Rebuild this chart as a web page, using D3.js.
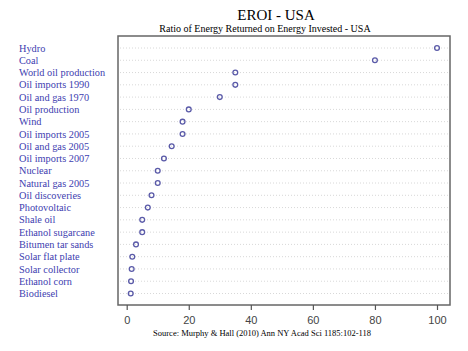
<!DOCTYPE html>
<html lang="en">
<head>
<meta charset="UTF-8">
<title>EROI - USA</title>
<script src="https://d3js.org/d3.v7.min.js"></script>
<style>
    body { margin: 0; background: #fff; }
    svg { display: block; font-family: 'Liberation Serif', 'DejaVu Serif', serif; }
    .grid { stroke: #d8d8d8; stroke-dasharray: 1, 2; }
    .lab { fill: #4040b0; font-size: 10.3px; }
    .tick text { fill: #444; font-size: 11px; }
</style>
</head>
<body>
<script>
// categories top to bottom, with EROI values
var sources = ["Hydro", "Coal", "World oil production", "Oil imports 1990", "Oil and gas 1970",
    "Oil production", "Wind", "Oil imports 2005", "Oil and gas 2005", "Oil imports 2007",
    "Nuclear", "Natural gas 2005", "Oil discoveries", "Photovoltaic", "Shale oil",
    "Ethanol sugarcane", "Bitumen tar sands", "Solar flat plate", "Solar collector",
    "Ethanol corn", "Biodiesel"];
var eroi = [100, 80, 35, 35, 30, 20, 18, 18, 14.5, 12, 10, 10, 8, 6.8, 5, 5, 3, 1.8, 1.6, 1.4, 1.3];
var xTicks = [0, 20, 40, 60, 80, 100];

var W = 468, H = 351;
var box = {left: 118, right: 450, top: 36, bottom: 305};

var svg = d3.select("body").append("svg")
    .attr("width", W)
    .attr("height", H);

var x = d3.scaleLinear().domain([0, 100]).range([126.7, 437]);
var y = d3.scalePoint().domain(sources).range([48, 293.5]);

// title + subtitle
svg.append("text")
    .attr("x", 276).attr("y", 20)
    .attr("text-anchor", "middle")
    .style("font-size", "15px")
    .text("EROI - USA");
svg.append("text")
    .attr("x", 265).attr("y", 32)
    .attr("text-anchor", "middle")
    .style("font-size", "10px")
    .text("Ratio of Energy Returned on Energy Invested - USA");

// dotted row lines
svg.selectAll(".grid")
    .data(sources)
    .enter().append("line")
    .attr("class", "grid")
    .attr("x1", box.left + 2).attr("x2", box.right - 2)
    .attr("y1", function(d) { return y(d); })
    .attr("y2", function(d) { return y(d); });

// panel border
svg.append("rect")
    .attr("x", box.left).attr("y", box.top)
    .attr("width", box.right - box.left)
    .attr("height", box.bottom - box.top)
    .attr("fill", "none")
    .attr("stroke", "#666")
    .attr("stroke-width", 1.5);

// row labels
svg.selectAll(".lab")
    .data(sources)
    .enter().append("text")
    .attr("class", "lab")
    .attr("x", 19)
    .attr("y", function(d) { return y(d); })
    .attr("dy", "0.35em")
    .text(function(d) { return d; });

// x axis
var xAxis = d3.axisBottom(x).tickValues(xTicks).tickSize(5).tickPadding(6);
var gx = svg.append("g")
    .attr("transform", "translate(0," + box.bottom + ")")
    .call(xAxis);
gx.select(".domain").remove();
gx.selectAll(".tick line").attr("stroke", "#555").attr("stroke-width", 1.2);

// points
svg.selectAll(".pt")
    .data(eroi)
    .enter().append("circle")
    .attr("class", "pt")
    .attr("cx", function(d) { return x(d); })
    .attr("cy", function(d, i) { return y(sources[i]); })
    .attr("r", 2.4)
    .attr("fill", "none")
    .attr("stroke", "#5a5aa8")
    .attr("stroke-width", 1.3);

// source note
svg.append("text")
    .attr("x", 262).attr("y", 336)
    .attr("text-anchor", "middle")
    .style("font-size", "8.5px")
    .text("Source: Murphy & Hall (2010) Ann NY Acad Sci 1185:102-118");
</script>
</body>
</html>
